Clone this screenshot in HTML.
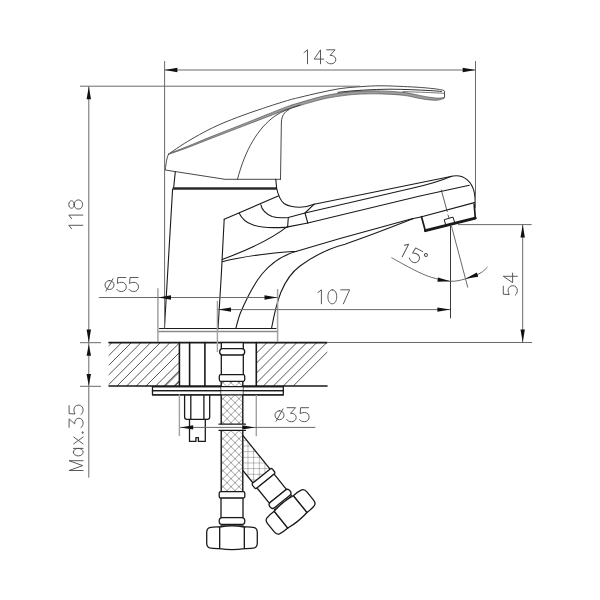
<!DOCTYPE html>
<html><head><meta charset="utf-8"><style>
html,body{margin:0;padding:0;background:#fff;width:600px;height:600px;overflow:hidden;}
svg{display:block;}
</style></head><body>
<svg width="600" height="600" viewBox="0 0 600 600">
<rect width="600" height="600" fill="#fff"/>
<clipPath id="cl1"><rect x="108.7" y="342.6" width="70.7" height="43.4"/><rect x="256.3" y="342.6" width="71" height="43.4"/></clipPath>
<path d="M58.96,386 L102.36,342.6 M68.63,386 L112.03,342.6 M78.30,386 L121.70,342.6 M87.97,386 L131.37,342.6 M97.64,386 L141.04,342.6 M107.31,386 L150.71,342.6 M116.98,386 L160.38,342.6 M126.65,386 L170.05,342.6 M136.32,386 L179.72,342.6 M145.99,386 L189.39,342.6 M155.66,386 L199.06,342.6 M165.33,386 L208.73,342.6 M175.00,386 L218.40,342.6 M184.67,386 L228.07,342.6 M163.90,386 L207.30,342.6 M173.85,386 L217.25,342.6 M183.80,386 L227.20,342.6 M193.75,386 L237.15,342.6 M203.70,386 L247.10,342.6 M213.65,386 L257.05,342.6 M223.60,386 L267.00,342.6 M233.55,386 L276.95,342.6 M243.50,386 L286.90,342.6 M253.45,386 L296.85,342.6 M263.40,386 L306.80,342.6 M273.35,386 L316.75,342.6 M283.30,386 L326.70,342.6 M293.25,386 L336.65,342.6" stroke="#2a2a2a" stroke-width="0.8" fill="none" clip-path="url(#cl1)"/>
<path d="M109,342.6 L327,342.6" fill="none" stroke="#1a1a1a" stroke-width="1.6" stroke-linejoin="round" stroke-linecap="round" />
<path d="M109,386 L327,386" fill="none" stroke="#1a1a1a" stroke-width="1.6" stroke-linejoin="round" stroke-linecap="round" />
<path d="M179.4,342.6 V386" fill="none" stroke="#1a1a1a" stroke-width="1.6" stroke-linejoin="round" stroke-linecap="round" />
<path d="M256.3,342.6 V386" fill="none" stroke="#1a1a1a" stroke-width="1.6" stroke-linejoin="round" stroke-linecap="round" />
<path d="M189.6,342.6 V386" fill="none" stroke="#1a1a1a" stroke-width="1.6" stroke-linejoin="round" stroke-linecap="round" />
<path d="M204.9,342.6 V386" fill="none" stroke="#1a1a1a" stroke-width="1.6" stroke-linejoin="round" stroke-linecap="round" />
<path d="M152.5,386.7 H283.3 V394.8 H152.5 Z" fill="none" stroke="#1a1a1a" stroke-width="1.3" stroke-linejoin="round" stroke-linecap="round" />
<path d="M152.5,390.6 H283.3" fill="none" stroke="#1a1a1a" stroke-width="1.3" stroke-linejoin="round" stroke-linecap="round" />
<path d="M184.6,395.5 V417 Q184.6,419.4 187,419.4 H207.3 Q209.7,419.4 209.7,417 V395.5" fill="none" stroke="#1a1a1a" stroke-width="1.3" stroke-linejoin="round" stroke-linecap="round" />
<path d="M190.8,395.5 V419.4 M203.9,395.5 V419.4" fill="none" stroke="#1a1a1a" stroke-width="1.3" stroke-linejoin="round" stroke-linecap="round" />
<path d="M189.5,419.4 V441.4 H195.9 V437.7 H198.4 V441.4 H205.3 V419.4" fill="none" stroke="#1a1a1a" stroke-width="1.3" stroke-linejoin="round" stroke-linecap="round" />
<defs>
<pattern id="xh" patternUnits="userSpaceOnUse" x="3" y="2.7" width="8" height="8">
<path d="M0,0 L8,8 M8,0 L0,8" stroke="#666" stroke-width="0.6"/>
</pattern>
<pattern id="gr" patternUnits="userSpaceOnUse" x="247.5" y="462.5" width="5.66" height="5.66">
<path d="M0,0 V5.66 M0,0 H5.66" stroke="#5a5a5a" stroke-width="0.8" fill="none"/>
</pattern>
</defs>
<path d="M243,435.7 L270.1,469.2 L253,483 L243,470.6 Z" fill="#fff"/>
<path d="M243,435.7 L270.1,469.2 L253,483 L243,470.6 Z" fill="url(#gr)"/>
<path d="M243,435.7 L270.1,469.2 M243,470.6 L253,483" fill="none" stroke="#1a1a1a" stroke-width="1.3" stroke-linejoin="round" stroke-linecap="round" />
<g transform="translate(261.5,476) rotate(-39)"><rect x="-12.8" y="0" width="25.6" height="6.5" rx="1.6" fill="#fff" stroke="#1a1a1a" stroke-width="1.3"/>
<rect x="-11" y="6.5" width="22" height="19.5" fill="#fff" stroke="#1a1a1a" stroke-width="1.3"/>
<rect x="-12.8" y="26" width="25.6" height="6.9" rx="3.2" fill="#fff" stroke="#1a1a1a" stroke-width="1.3"/>
<path d="M-11,32.9 V34.3 H11 V32.9" fill="none" stroke="#1a1a1a" stroke-width="1"/>
<path d="M-12.3,35.4 C-16,35.2 -20,35.5 -22.4,36.1 C-24.5,36.7 -25.3,38.6 -25.3,41.2 V51.2 C-25.3,53.8 -24.5,55.7 -22.4,56.3 C-20,56.9 -16,57.1 -12.3,57 Z" fill="#fff" stroke="#1a1a1a" stroke-width="1.3"/>
<path d="M12.3,35.4 C16,35.2 20,35.5 22.4,36.1 C24.5,36.7 25.3,38.6 25.3,41.2 V51.2 C25.3,53.8 24.5,55.7 22.4,56.3 C20,56.9 16,57.1 12.3,57 Z" fill="#fff" stroke="#1a1a1a" stroke-width="1.3"/>
<path d="M-12.3,35.4 C-5,34.1 5,34.1 12.3,35.4 L12.3,57 C5,58.2 -5,58.2 -12.3,57 Z" fill="#fff" stroke="#1a1a1a" stroke-width="1.3"/></g>
<rect x="221.2" y="381.3" width="21.6" height="110.5" fill="#fff"/>
<rect x="221.2" y="381.3" width="21.6" height="110.5" fill="url(#xh)"/>
<path d="M221.2,381.3 V491.8 M242.8,381.3 V491.8" fill="none" stroke="#1a1a1a" stroke-width="1.4" stroke-linejoin="round" stroke-linecap="round" />
<g transform="translate(232,491.6)"><rect x="-12.8" y="0" width="25.6" height="6.5" rx="1.6" fill="#fff" stroke="#1a1a1a" stroke-width="1.3"/>
<rect x="-11" y="6.5" width="22" height="19.5" fill="#fff" stroke="#1a1a1a" stroke-width="1.3"/>
<rect x="-12.8" y="26" width="25.6" height="6.9" rx="3.2" fill="#fff" stroke="#1a1a1a" stroke-width="1.3"/>
<path d="M-11,32.9 V34.3 H11 V32.9" fill="none" stroke="#1a1a1a" stroke-width="1"/>
<path d="M-12.3,35.4 C-16,35.2 -20,35.5 -22.4,36.1 C-24.5,36.7 -25.3,38.6 -25.3,41.2 V51.2 C-25.3,53.8 -24.5,55.7 -22.4,56.3 C-20,56.9 -16,57.1 -12.3,57 Z" fill="#fff" stroke="#1a1a1a" stroke-width="1.3"/>
<path d="M12.3,35.4 C16,35.2 20,35.5 22.4,36.1 C24.5,36.7 25.3,38.6 25.3,41.2 V51.2 C25.3,53.8 24.5,55.7 22.4,56.3 C20,56.9 16,57.1 12.3,57 Z" fill="#fff" stroke="#1a1a1a" stroke-width="1.3"/>
<path d="M-12.3,35.4 C-5,34.1 5,34.1 12.3,35.4 L12.3,57 C5,58.2 -5,58.2 -12.3,57 Z" fill="#fff" stroke="#1a1a1a" stroke-width="1.3"/></g>
<rect x="221.2" y="386.7" width="21.6" height="8.1" fill="#fff"/>
<path d="M152.5,386.7 H283.3 M152.5,390.6 H283.3 M152.5,394.8 H283.3" fill="none" stroke="#1a1a1a" stroke-width="1.3" stroke-linejoin="round" stroke-linecap="round" />
<rect x="219" y="424.2" width="26.5" height="6.1" fill="#fff"/>
<path d="M219,424.2 H245.5 M219,430.3 H245.5" fill="none" stroke="#1a1a1a" stroke-width="1.3" stroke-linejoin="round" stroke-linecap="round" />
<rect x="221.3" y="342.6" width="22" height="38.7" fill="#fff" stroke="#1a1a1a" stroke-width="1.3"/>
<rect x="219.7" y="348.7" width="25" height="6.3" rx="3" fill="#fff" stroke="#1a1a1a" stroke-width="1.3"/>
<rect x="219.3" y="374.7" width="25.4" height="6.6" rx="1.5" fill="#fff" stroke="#1a1a1a" stroke-width="1.3"/>
<path d="M168.7,154 C171.83,151.92 180.20,145.87 187.5,141.5 C194.80,137.13 204.17,131.83 212.5,127.8 C220.83,123.77 229.17,120.52 237.5,117.3 C245.83,114.08 254.17,111.30 262.5,108.5 C270.83,105.70 281.25,102.37 287.5,100.5 C293.75,98.63 294.58,98.62 300,97.3 C305.42,95.98 313.33,94.05 320,92.6 C326.67,91.15 333.33,89.58 340,88.6 C346.67,87.62 353.00,87.17 360,86.7 C367.00,86.23 372.83,85.73 382,85.8 C391.17,85.87 406.67,86.65 415,87.1 C423.33,87.55 427.72,88.07 432,88.5 C436.28,88.93 439.25,89.50 440.7,89.7 C443.3,90.1 444.4,90.5 444.5,91.3 L444.6,97.6 L443.8,98.2" fill="none" stroke="#333" stroke-width="0.9" stroke-linejoin="round" stroke-linecap="round" />
<path d="M168.7,153.7 C171.83,152.47 180.20,149.28 187.5,146.35 C194.80,143.42 204.17,139.45 212.5,136.1 C220.83,132.75 229.17,129.55 237.5,126.25 C245.83,122.95 254.17,119.60 262.5,116.3 C270.83,113.00 281.25,108.74 287.5,106.45 C293.75,104.16 294.08,104.28 300,102.55 C305.92,100.82 316.33,97.67 323,96.1 C329.67,94.52 334.33,93.90 340,93.1 C345.67,92.30 350.33,91.67 357,91.3 C363.67,90.93 372.33,90.73 380,90.9 C387.67,91.07 396.83,91.63 403,92.3 C409.17,92.97 413.17,94.17 417,94.9 C420.83,95.63 423.33,96.24 426,96.69999999999999 C428.67,97.16 430.92,97.42 433,97.65 C435.08,97.88 436.70,98.12 438.5,98.1 C440.30,98.07 442.92,97.60 443.8,97.5 L443.8,98.5 C442.92,98.77 440.30,99.82 438.5,100.1 C436.70,100.38 435.08,100.25 433,100.15 C430.92,100.05 428.67,99.88 426,99.5 C423.33,99.12 420.83,98.60 417,97.9 C413.17,97.20 409.17,95.97 403,95.3 C396.83,94.63 387.67,94.07 380,93.9 C372.33,93.73 363.67,93.93 357,94.3 C350.33,94.67 345.67,95.30 340,96.1 C334.33,96.90 329.67,97.54 323,99.1 C316.33,100.66 305.92,103.78 300,105.45 C294.08,107.12 293.75,106.94 287.5,109.14999999999999 C281.25,111.36 270.83,115.50 262.5,118.7 C254.17,121.90 245.83,125.15 237.5,128.35 C229.17,131.55 220.83,134.68 212.5,137.9 C204.17,141.12 194.80,144.92 187.5,147.65 C180.20,150.38 171.83,153.19 168.7,154.3 Z" fill="#9c9c9c" stroke="none" stroke-width="0" stroke-linejoin="round" stroke-linecap="round" />
<path d="M168.7,153.7 C171.83,152.47 180.20,149.28 187.5,146.35 C194.80,143.42 204.17,139.45 212.5,136.1 C220.83,132.75 229.17,129.55 237.5,126.25 C245.83,122.95 254.17,119.60 262.5,116.3 C270.83,113.00 281.25,108.74 287.5,106.45 C293.75,104.16 294.08,104.28 300,102.55 C305.92,100.82 316.33,97.67 323,96.1 C329.67,94.52 334.33,93.90 340,93.1 C345.67,92.30 350.33,91.67 357,91.3 C363.67,90.93 372.33,90.73 380,90.9 C387.67,91.07 396.83,91.63 403,92.3 C409.17,92.97 413.17,94.17 417,94.9 C420.83,95.63 423.33,96.24 426,96.69999999999999 C428.67,97.16 430.92,97.42 433,97.65 C435.08,97.88 436.70,98.12 438.5,98.1 C440.30,98.07 442.92,97.60 443.8,97.5" fill="none" stroke="#444" stroke-width="0.6" stroke-linejoin="round" stroke-linecap="round" />
<path d="M168.7,154.3 C171.83,153.19 180.20,150.38 187.5,147.65 C194.80,144.92 204.17,141.12 212.5,137.9 C220.83,134.68 229.17,131.55 237.5,128.35 C245.83,125.15 254.17,121.90 262.5,118.7 C270.83,115.50 281.25,111.36 287.5,109.14999999999999 C293.75,106.94 294.08,107.12 300,105.45 C305.92,103.78 316.33,100.66 323,99.1 C329.67,97.54 334.33,96.90 340,96.1 C345.67,95.30 350.33,94.67 357,94.3 C363.67,93.93 372.33,93.73 380,93.9 C387.67,94.07 396.83,94.63 403,95.3 C409.17,95.97 413.17,97.20 417,97.9 C420.83,98.60 423.33,99.12 426,99.5 C428.67,99.88 430.92,100.05 433,100.15 C435.08,100.25 436.70,100.38 438.5,100.1 C440.30,99.82 442.92,98.77 443.8,98.5" fill="none" stroke="#444" stroke-width="0.6" stroke-linejoin="round" stroke-linecap="round" />
<path d="M338,92.3 C355,90.3 372,89.4 390,89.2 C405,89.3 418,89.9 430,90.6 C435,90.9 439,91.2 441.5,91.5" fill="none" stroke="#1a1a1a" stroke-width="0.9" stroke-linejoin="round" stroke-linecap="round" />
<path d="M403,91.6 C420,92.1 433,92.7 443.6,93.3" fill="none" stroke="#555" stroke-width="0.8" stroke-linejoin="round" stroke-linecap="round" />
<path d="M168.7,154 C166.8,156.5 166.2,163 165.2,170 L225,179.3 L280.5,179.3" fill="none" stroke="#333" stroke-width="0.9" stroke-linejoin="round" stroke-linecap="round" />
<path d="M237.5,179.3 C245,150 258,128 275,116 C282,111 290,108.5 300,105.2" fill="none" stroke="#333" stroke-width="0.9" stroke-linejoin="round" stroke-linecap="round" />
<path d="M280.5,179.3 L281.4,122 C281.8,116 284,112 289,109.6" fill="none" stroke="#333" stroke-width="0.9" stroke-linejoin="round" stroke-linecap="round" />
<path d="M175.3,171.8 L173.6,188.3" fill="none" stroke="#1a1a1a" stroke-width="1.1" stroke-linejoin="round" stroke-linecap="round" />
<path d="M172.6,189 L164.4,328.5" fill="none" stroke="#1a1a1a" stroke-width="1.1" stroke-linejoin="round" stroke-linecap="round" />
<path d="M172.8,188.5 L276.9,188.5" fill="none" stroke="#2a2a2a" stroke-width="2.4" stroke-linejoin="round" stroke-linecap="butt" />
<path d="M275.8,179.3 L276.6,188 C277.8,194 280,200 284,203.5 C289,206.7 295,207.2 300,207.2 C306,207 310,205.8 314.2,204.2" fill="none" stroke="#1a1a1a" stroke-width="1.1" stroke-linejoin="round" stroke-linecap="round" />
<path d="M224.2,219.2 L278.8,195.8" fill="none" stroke="#1a1a1a" stroke-width="1.1" stroke-linejoin="round" stroke-linecap="round" />
<path d="M224.2,219.2 L221.3,275 L218,329" fill="none" stroke="#1a1a1a" stroke-width="1.1" stroke-linejoin="round" stroke-linecap="round" />
<path d="M239.2,213.3 C242,219 246,222.5 252,224.5 C258,227 266,227.7 275,227.6 C280,227.5 284,227.4 286.6,227.1 L307.8,223" fill="none" stroke="#1a1a1a" stroke-width="1.1" stroke-linejoin="round" stroke-linecap="round" />
<path d="M260.8,204.7 C262,210.5 266,214 272,216.5 C277,218 283,218 288.3,217.5 L305,213 L314.2,204.2" fill="none" stroke="#1a1a1a" stroke-width="1.1" stroke-linejoin="round" stroke-linecap="round" />
<path d="M288.3,217.5 L287.6,227.1" fill="none" stroke="#1a1a1a" stroke-width="1.1" stroke-linejoin="round" stroke-linecap="round" />
<path d="M305,213 L307.8,223" fill="none" stroke="#1a1a1a" stroke-width="1.1" stroke-linejoin="round" stroke-linecap="round" />
<path d="M314.2,204.2 L453.3,176 C465,174.2 472,183 474.2,192 C475,196 475.2,199 475.2,202.4" fill="none" stroke="#1a1a1a" stroke-width="1.1" stroke-linejoin="round" stroke-linecap="round" />
<path d="M305,213 L412,188.3 C432,183.8 443,180 451.5,176.3" fill="none" stroke="#1a1a1a" stroke-width="1.1" stroke-linejoin="round" stroke-linecap="round" />
<path d="M222.2,259.5 C245,251 270,240 286.6,227.1" fill="none" stroke="#1a1a1a" stroke-width="1.1" stroke-linejoin="round" stroke-linecap="round" />
<path d="M222.2,261.7 C245,256 270,253 296.7,251.3 L340,238.5 L410,219.2 L421.7,216.7 L475.3,202.4" fill="none" stroke="#1a1a1a" stroke-width="1.1" stroke-linejoin="round" stroke-linecap="round" />
<path d="M235.8,328.5 C237.5,322 238.5,318 240,314 C247,297 254,284 262,274 C272,262 283,255 296.7,251.3" fill="none" stroke="#1a1a1a" stroke-width="1.1" stroke-linejoin="round" stroke-linecap="round" />
<path d="M271.5,328.5 C274,315 277,302 281,292 C286,280 292,272 300,266 C315,255 330,248 345,244.2 C368,236.5 392,227 413,218.8" fill="none" stroke="#1a1a1a" stroke-width="1.1" stroke-linejoin="round" stroke-linecap="round" />
<path d="M307.8,223 L420,196 L469.3,185.3" fill="none" stroke="#1a1a1a" stroke-width="1.1" stroke-linejoin="round" stroke-linecap="round" />
<path d="M421.5,216.7 L425.3,230.7 L475.3,218.2 L474.2,204" fill="none" stroke="#1a1a1a" stroke-width="1.7" stroke-linejoin="round" stroke-linecap="round" />
<path d="M425.3,230.7 L475.3,218.2" fill="none" stroke="#1a1a1a" stroke-width="2.8" stroke-linejoin="round" stroke-linecap="round" />
<path d="M444.6,219.6 L453,217.1 L454.9,223.2 L446.4,225.8 Z" fill="none" stroke="#1a1a1a" stroke-width="1.0" stroke-linejoin="round" stroke-linecap="round" />
<path d="M441.3,190 L447.2,211.5 M448,215 L448.8,217.5" fill="none" stroke="#333" stroke-width="0.8" stroke-linejoin="round" stroke-linecap="round" />
<path d="M159.5,328.5 L276,328.5" fill="none" stroke="#1a1a1a" stroke-width="1.1" stroke-linejoin="round" stroke-linecap="round" />
<path d="M158,331.5 L277.5,331.5" fill="none" stroke="#8a8a8a" stroke-width="1.3" stroke-linejoin="round" stroke-linecap="round" />
<line x1="164.6" y1="61" x2="164.6" y2="328.5" stroke="#6a6a6a" stroke-width="1"/>
<line x1="475.5" y1="61" x2="475.5" y2="208" stroke="#6a6a6a" stroke-width="1"/>
<line x1="164.6" y1="70" x2="475.5" y2="70" stroke="#6a6a6a" stroke-width="1"/>
<path d="M164.60,70.00 L177.40,67.80 L177.40,72.20 Z" fill="#111"/>
<path d="M475.50,70.00 L462.70,72.20 L462.70,67.80 Z" fill="#111"/>
<line x1="80" y1="86.2" x2="360" y2="86.2" stroke="#6a6a6a" stroke-width="1"/>
<line x1="88.8" y1="86.2" x2="88.8" y2="477.6" stroke="#6a6a6a" stroke-width="1"/>
<path d="M88.80,86.40 L91.00,99.20 L86.60,99.20 Z" fill="#111"/>
<path d="M88.80,342.40 L86.60,329.60 L91.00,329.60 Z" fill="#111"/>
<line x1="80" y1="342.7" x2="101" y2="342.7" stroke="#6a6a6a" stroke-width="1"/>
<path d="M88.80,344.20 L91.00,355.70 L86.60,355.70 Z" fill="#111"/>
<path d="M88.80,386.00 L86.60,374.00 L91.00,374.00 Z" fill="#111"/>
<line x1="80" y1="386.3" x2="101" y2="386.3" stroke="#6a6a6a" stroke-width="1"/>
<line x1="157.9" y1="288.3" x2="157.9" y2="342" stroke="#a2a2a2" stroke-width="1.5"/>
<line x1="277.6" y1="289" x2="277.6" y2="342" stroke="#a2a2a2" stroke-width="1.5"/>
<line x1="98.8" y1="297.5" x2="277.5" y2="297.5" stroke="#6a6a6a" stroke-width="1"/>
<path d="M158.20,297.50 L171.00,295.30 L171.00,299.70 Z" fill="#111"/>
<path d="M277.30,297.50 L264.50,299.70 L264.50,295.30 Z" fill="#111"/>
<line x1="217.4" y1="300.8" x2="217.4" y2="352" stroke="#a2a2a2" stroke-width="1.4"/>
<line x1="217.5" y1="309.6" x2="450.4" y2="309.6" stroke="#6a6a6a" stroke-width="1"/>
<path d="M218.20,309.60 L231.00,307.40 L231.00,311.80 Z" fill="#111"/>
<path d="M450.20,309.60 L437.40,311.80 L437.40,307.40 Z" fill="#111"/>
<line x1="450.5" y1="225.5" x2="450.5" y2="318.3" stroke="#3a3a3a" stroke-width="1"/>
<line x1="458" y1="224.6" x2="531.7" y2="224.6" stroke="#6a6a6a" stroke-width="1"/>
<line x1="327" y1="342.5" x2="532" y2="342.5" stroke="#6a6a6a" stroke-width="1"/>
<line x1="522.7" y1="224.6" x2="522.7" y2="342.4" stroke="#6a6a6a" stroke-width="1"/>
<path d="M522.70,224.80 L524.90,237.60 L520.50,237.60 Z" fill="#111"/>
<path d="M522.70,342.20 L520.50,329.40 L524.90,329.40 Z" fill="#111"/>
<line x1="451.3" y1="225.4" x2="467.8" y2="287.5" stroke="#6a6a6a" stroke-width="1"/>
<path d="M391.4,257.6 C394.22,259.15 403.53,264.38 408.3,266.9 C413.07,269.42 416.10,271.00 420,272.75 C423.90,274.50 426.63,275.98 431.7,277.4 C436.77,278.82 444.85,280.98 450.4,281.25 C455.95,281.52 460.07,280.32 465,279 C469.93,277.68 476.25,275.28 480,273.3 C483.75,271.32 486.25,268.13 487.5,267.1" fill="none" stroke="#6a6a6a" stroke-width="1"/>
<path d="M450.40,281.25 L437.42,281.81 L437.98,277.44 Z" fill="#111"/>
<path d="M465.40,278.75 L476.85,272.62 L478.24,276.80 Z" fill="#111"/>
<line x1="179.4" y1="394.5" x2="179.4" y2="436" stroke="#a2a2a2" stroke-width="1.4"/>
<line x1="256.3" y1="395" x2="256.3" y2="436.2" stroke="#a2a2a2" stroke-width="1.4"/>
<line x1="180" y1="427.4" x2="315.3" y2="427.4" stroke="#6a6a6a" stroke-width="1"/>
<path d="M180.40,427.40 L193.20,425.20 L193.20,429.60 Z" fill="#111"/>
<path d="M255.00,427.40 L242.20,429.60 L242.20,425.20 Z" fill="#111"/>
<g fill="none" stroke="#505050" stroke-width="0.95" stroke-linecap="round" stroke-linejoin="round" ><path transform="translate(304.00,49.80)" d="M0,2.8 L3.5,0 V14"/><path transform="translate(314.20,49.80)" d="M6.3,14 V0 L0,9.3 H9.5"/><path transform="translate(326.30,49.80)" d="M0.4,0 H8.8 L3.8,5.6 C7.4,5.3 9.5,7.4 9.5,9.8 C9.5,12.3 7.4,14 4.8,14 C2.6,14 0.9,13.2 0,11.8"/></g>
<g fill="none" stroke="#505050" stroke-width="0.95" stroke-linecap="round" stroke-linejoin="round" ><path transform="translate(105.00,277.50)" d="M4.5,3 C2,3 0,5 0,7.5 C0,10 2,12 4.5,12 C7,12 9,10 9,7.5 C9,5 7,3 4.5,3 Z M1,13.6 L8,1.2"/><path transform="translate(116.80,277.50)" d="M9,0 H1 L0.6,5.9 C1.9,5.1 3.4,4.8 4.9,4.8 C7.6,4.8 9.5,6.8 9.5,9.4 C9.5,12.1 7.5,14 4.8,14 C2.6,14 0.9,13.2 0,11.9"/><path transform="translate(129.00,277.50)" d="M9,0 H1 L0.6,5.9 C1.9,5.1 3.4,4.8 4.9,4.8 C7.6,4.8 9.5,6.8 9.5,9.4 C9.5,12.1 7.5,14 4.8,14 C2.6,14 0.9,13.2 0,11.9"/></g>
<g fill="none" stroke="#505050" stroke-width="0.95" stroke-linecap="round" stroke-linejoin="round" ><path transform="translate(317.90,289.80)" d="M0,2.8 L3.5,0 V14"/><path transform="translate(327.90,289.80)" d="M4.4,0 C1.6,0 0,3 0,7 C0,11 1.6,14 4.4,14 C7.2,14 8.8,11 8.8,7 C8.8,3 7.2,0 4.4,0 Z"/><path transform="translate(340.80,289.80)" d="M0,0 H8.8 L2.6,14"/></g>
<g fill="none" stroke="#505050" stroke-width="0.95" stroke-linecap="round" stroke-linejoin="round" ><path transform="translate(275.00,407.70)" d="M4.5,3 C2,3 0,5 0,7.5 C0,10 2,12 4.5,12 C7,12 9,10 9,7.5 C9,5 7,3 4.5,3 Z M1,13.6 L8,1.2"/><path transform="translate(286.70,407.70)" d="M0.4,0 H8.8 L3.8,5.6 C7.4,5.3 9.5,7.4 9.5,9.8 C9.5,12.3 7.4,14 4.8,14 C2.6,14 0.9,13.2 0,11.8"/><path transform="translate(299.60,407.70)" d="M9,0 H1 L0.6,5.9 C1.9,5.1 3.4,4.8 4.9,4.8 C7.6,4.8 9.5,6.8 9.5,9.4 C9.5,12.1 7.5,14 4.8,14 C2.6,14 0.9,13.2 0,11.9"/></g>
<g fill="none" stroke="#505050" stroke-width="0.95" stroke-linecap="round" stroke-linejoin="round" transform="translate(68.8,228.8) rotate(-90)"><path transform="translate(0.00,0.00)" d="M0,2.8 L3.5,0 V14"/><path transform="translate(10.20,0.00)" d="M0,2.8 L3.5,0 V14"/><path transform="translate(19.70,0.00)" d="M4.6,5.4 C2.4,5.4 0.9,4.2 0.9,2.7 C0.9,1.2 2.4,0 4.6,0 C6.8,0 8.3,1.2 8.3,2.7 C8.3,4.2 6.8,5.4 4.6,5.4 C1.9,5.4 0,7.2 0,9.6 C0,12 1.9,13.8 4.6,13.8 C7.3,13.8 9.2,12 9.2,9.6 C9.2,7.2 7.3,5.4 4.6,5.4 Z"/></g>
<g fill="none" stroke="#505050" stroke-width="0.95" stroke-linecap="round" stroke-linejoin="round" transform="translate(503.3,295.2) rotate(-90)"><path transform="translate(0.00,0.00)" d="M9,0 H1 L0.6,5.9 C1.9,5.1 3.4,4.8 4.9,4.8 C7.6,4.8 9.5,6.8 9.5,9.4 C9.5,12.1 7.5,14 4.8,14 C2.6,14 0.9,13.2 0,11.9"/><path transform="translate(12.60,0.00)" d="M6.3,14 V0 L0,9.3 H9.5"/></g>
<g fill="none" stroke="#505050" stroke-width="0.95" stroke-linecap="round" stroke-linejoin="round" transform="translate(69.1,470.9) rotate(-90)"><path transform="translate(0.40,0.00)" d="M0,14 V0 L4.9,13.6 L9.8,0 V14"/><path transform="translate(15.00,0.00)" d="M3.75,4.3 C1.6,4.3 0,6.4 0,9.15 C0,11.9 1.6,14 3.75,14 C5.9,14 7.5,11.9 7.5,9.15 C7.5,6.4 5.9,4.3 3.75,4.3 Z M7.5,4.3 V14"/><path transform="translate(27.00,0.00)" d="M0,4.6 L6.9,14 M6.9,4.6 L0,14"/><path transform="translate(37.90,0.00)" d="M0.2,13.1 h0.9 v0.9 h-0.9 Z"/><path transform="translate(43.20,0.00)" d="M0.4,0 H8.8 L3.8,5.6 C7.4,5.3 9.5,7.4 9.5,9.8 C9.5,12.3 7.4,14 4.8,14 C2.6,14 0.9,13.2 0,11.8"/><path transform="translate(56.30,0.00)" d="M9,0 H1 L0.6,5.9 C1.9,5.1 3.4,4.8 4.9,4.8 C7.6,4.8 9.5,6.8 9.5,9.4 C9.5,12.1 7.5,14 4.8,14 C2.6,14 0.9,13.2 0,11.9"/></g>
<g fill="none" stroke="#505050" stroke-width="0.95" stroke-linecap="round" stroke-linejoin="round" transform="translate(405.5,242.7) rotate(27.2)"><path transform="translate(0.00,0.00)" d="M0,2.8 L3.5,0 V14"/><path transform="translate(10.40,0.00)" d="M9,0 H1 L0.6,5.9 C1.9,5.1 3.4,4.8 4.9,4.8 C7.6,4.8 9.5,6.8 9.5,9.4 C9.5,12.1 7.5,14 4.8,14 C2.6,14 0.9,13.2 0,11.9"/></g>
<circle cx="0" cy="0" r="1.45" fill="none" stroke="#505050" stroke-width="0.95" transform="translate(405.5,242.7) rotate(27.2) translate(23.8,1.6)"/>
</svg>
</body></html>
